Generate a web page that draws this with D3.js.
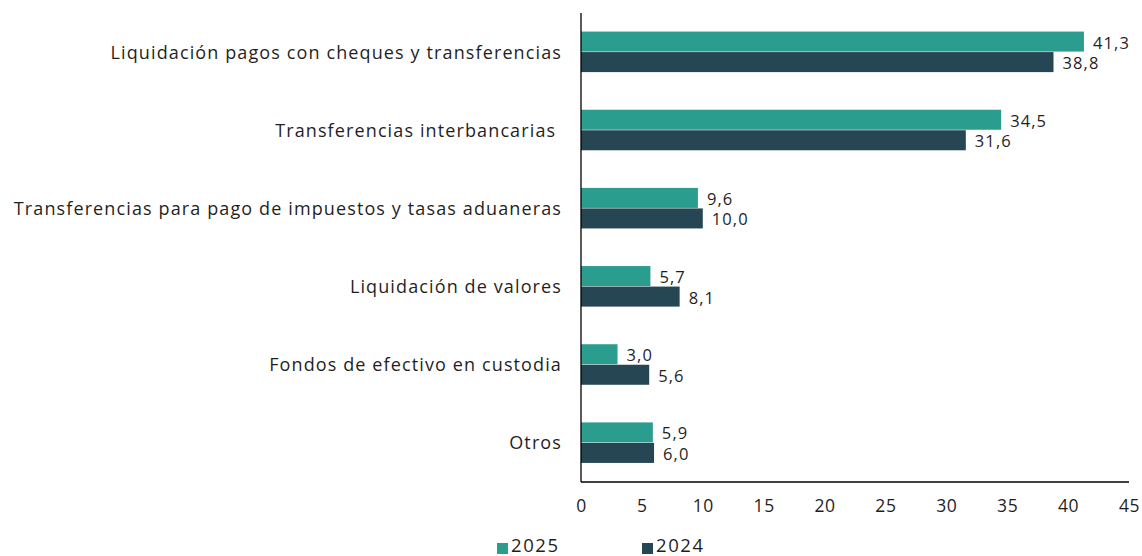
<!DOCTYPE html>
<html><head><meta charset="utf-8">
<script src="https://cdn.jsdelivr.net/npm/d3@7"></script>
<style>body{margin:0;background:#fff}svg text{font-family:"Open Sans",sans-serif;fill:#1f1f1f;letter-spacing:0.6px}</style>
</head><body><svg id="c" width="1142" height="556"></svg>
<script>
const categories = ["Liquidación pagos con cheques y transferencias","Transferencias interbancarias ","Transferencias para pago de impuestos y tasas aduaneras","Liquidación de valores","Fondos de efectivo en custodia","Otros"];
const series2025 = [41.3,34.5,9.6,5.7,3.0,5.9];
const series2024 = [38.8,31.6,10.0,8.1,5.6,6.0];
const seriesNames = ["2025","2024"];
const xTicks = [0,5,10,15,20,25,30,35,40,45];
const colors = ["#2a9d8f","#264653"];

(function(){
const svg = d3.select("#c");
const mLeft = 581, mRight = 1129, mTop = 13, mBottom = 482;
const x = d3.scaleLinear().domain([0,45]).range([mLeft,mRight]);
const y = d3.scaleBand().domain(categories).range([mTop,mBottom]).paddingInner(0.475).paddingOuter(0.2375);
const inner = d3.scaleBand().domain(seriesNames).range([0,y.bandwidth()]);
const fmt = v => v.toFixed(1).replace(".",",");

categories.forEach((c,i)=>{
  [series2025[i],series2024[i]].forEach((v,j)=>{
    const yy = y(c)+inner(seriesNames[j]);
    svg.append("rect").attr("x",x(0)).attr("y",yy).attr("width",x(v)-x(0)).attr("height",inner.bandwidth()-0.5).attr("fill",colors[j]);
    svg.append("text").attr("x",x(v)+9).attr("y",yy+inner.bandwidth()/2+1).attr("dy","0.35em").attr("font-size",16.5).style("letter-spacing","1.1px").text(fmt(v));
  });
});

svg.selectAll("text.cat").data(categories).enter().append("text").attr("class","cat")
  .attr("x",mLeft-19).attr("y",d=>y(d)+y.bandwidth()/2).attr("dy","0.36em")
  .attr("text-anchor","end").attr("font-size",18).style("letter-spacing","1.12px").style("white-space","pre").text(d=>d);

svg.append("line").attr("x1",mLeft).attr("x2",mLeft).attr("y1",mTop).attr("y2",mBottom).attr("stroke","#000").attr("stroke-width",1.3);
svg.append("line").attr("x1",mLeft).attr("x2",mRight).attr("y1",mBottom).attr("y2",mBottom).attr("stroke","#000").attr("stroke-width",1.3);

const xAxis = svg.append("g").attr("transform",`translate(0,${mBottom})`)
  .call(d3.axisBottom(x).tickValues(xTicks).tickSize(0).tickPadding(18).tickFormat(d=>d));
xAxis.select(".domain").remove();
xAxis.selectAll("text").attr("font-size",17.5).style("font-family","'Open Sans',sans-serif").attr("fill","#1f1f1f");

const lg = [497,642];
lg.forEach((lx,i)=>{
  svg.append("rect").attr("x",lx).attr("y",543).attr("width",11).attr("height",11).attr("fill",colors[i]);
  svg.append("text").attr("x",lx+14).attr("y",546).attr("dy","0.35em").attr("font-size",18.5).style("letter-spacing","1.6px").text(seriesNames[i]);
});
})();
</script></body></html>
